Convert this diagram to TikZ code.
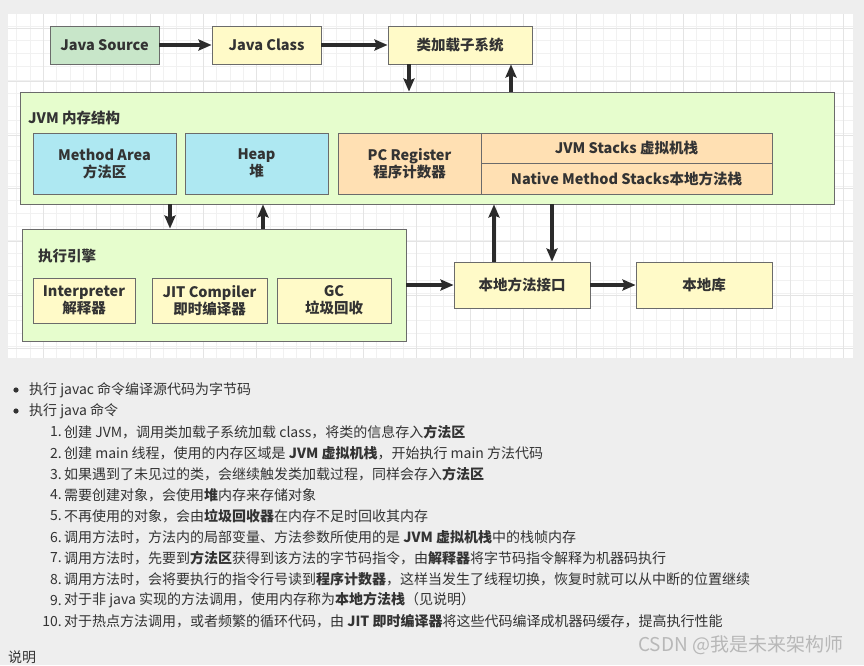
\documentclass[tikz,border=0pt]{standalone}
\usepackage{fontspec}
\setmainfont{Noto Sans CJK SC}
\usetikzlibrary{arrows.meta}
\definecolor{bgc}{HTML}{EEEEEE}
\definecolor{gridmin}{HTML}{F1F1F1}
\definecolor{gridmaj}{HTML}{E4E4E4}
\definecolor{greenbox}{HTML}{C8E6C9}
\definecolor{yellowbox}{HTML}{FFFAC8}
\definecolor{jvmgreen}{HTML}{E6FDCD}
\definecolor{bluebox}{HTML}{AEE8F2}
\definecolor{peachbox}{HTML}{FFE0B3}
\definecolor{bordc}{HTML}{6B6B6B}
\definecolor{arrc}{HTML}{2B2B2B}
\definecolor{txt}{HTML}{333333}
\definecolor{wm}{HTML}{B8B8B8}
\tikzset{
  box/.style={draw=bordc, line width=0.9pt, text=txt, align=center, inner sep=0pt,
    font=\bfseries\fontsize{14.5}{17}\selectfont},
  lbl/.style={text=txt, inner sep=0pt, font=\bfseries\fontsize{14.5}{17}\selectfont},
  arr/.style={draw=arrc, line width=3.4pt, -{Stealth[length=13pt,width=11pt,inset=2pt]}},
  para/.style={text=txt, inner sep=0pt, anchor=west, font=\fontsize{14}{17}\selectfont},
  num/.style={text=txt, inner sep=0pt, anchor=east, font=\fontsize{14}{17}\selectfont},
}
\begin{document}
\begin{tikzpicture}[x=1pt,y=-1pt]
\useasboundingbox (0,0) rectangle (864,665);
\fill[bgc] (0,0) rectangle (864,665);
\fill[white] (8,14) rectangle (853,358);
\begin{scope}
\clip (8,14) rectangle (853,358);
\foreach \i in {0,...,66} \draw[gridmin, line width=0.8pt] ({-10+\i*13.333},14) -- ({-10+\i*13.333},358);
\foreach \i in {0,...,27} \draw[gridmin, line width=0.8pt] (8,{0+\i*13.333}) -- (853,{0+\i*13.333});
\foreach \i in {0,...,17} \draw[gridmaj, line width=1pt] ({-10+\i*53.333},14) -- ({-10+\i*53.333},358);
\foreach \i in {0,...,7} \draw[gridmaj, line width=1pt] (8,{-25+\i*53.333}) -- (853,{-25+\i*53.333});
\end{scope}

% top row
\node[box, fill=greenbox, minimum width=109, minimum height=38] (src) at (104.5,45) {Java Source};
\node[box, fill=yellowbox, minimum width=109, minimum height=38] (cls) at (266.5,45) {Java Class};
\node[box, fill=yellowbox, minimum width=144, minimum height=38] (loader) at (460,45) {类加载子系统};

% JVM memory
\node[box, fill=jvmgreen, minimum width=814, minimum height=112] (jvm) at (427,148) {};
\node[lbl, anchor=west] (jvmlbl) at (28,118) {JVM 内存结构};
\node[box, fill=bluebox, minimum width=143, minimum height=61] (method) at (104.5,163.5) {Method Area\\方法区};
\node[box, fill=bluebox, minimum width=143, minimum height=61] (heap) at (256.5,163.5) {Heap\\堆};
\node[box, fill=peachbox, minimum width=143, minimum height=61] (pc) at (409.5,163.5) {PC Register\\程序计数器};
\node[box, fill=peachbox, minimum width=291, minimum height=30.5] (jstack) at (626.5,148.25) {JVM Stacks 虚拟机栈};
\node[box, fill=peachbox, minimum width=291, minimum height=30.5] (native) at (626.5,178.75) {Native Method Stacks本地方法栈};

% execution engine
\node[box, fill=jvmgreen, minimum width=384, minimum height=112] (exec) at (214,285) {};
\node[lbl, anchor=west] (execlbl) at (38,256) {执行引擎};
\node[box, fill=yellowbox, minimum width=102, minimum height=45] (interp) at (84,300.5) {Interpreter\\解释器};
\node[box, fill=yellowbox, minimum width=115, minimum height=45] (jit) at (209.5,300.5) {JIT Compiler\\即时编译器};
\node[box, fill=yellowbox, minimum width=114, minimum height=45] (gc) at (334,300.5) {GC\\垃圾回收};

% native
\node[box, fill=yellowbox, minimum width=136, minimum height=46] (jni) at (522,285) {本地方法接口};
\node[box, fill=yellowbox, minimum width=136, minimum height=46] (lib) at (704,285) {本地库};

% arrows
\draw[arr] (src.east) -- (cls.west);
\draw[arr] (cls.east) -- (loader.west);
\draw[arr] ([xshift=-51pt]loader.south) -- ([xshift=-51pt]loader.south |- jvm.north);
\draw[arr] ([xshift=51pt]loader.south |- jvm.north) -- ([xshift=51pt]loader.south);
\draw[arr] ([xshift=-44pt]exec.north |- jvm.south) -- ([xshift=-44pt]exec.north);
\draw[arr] ([xshift=49pt]exec.north) -- ([xshift=49pt]exec.north |- jvm.south);
\draw[arr] (exec.east) -- (jni.west);
\draw[arr] (jni.east) -- (lib.west);
\draw[arr] ([xshift=-28pt]jni.north) -- ([xshift=-28pt]jni.north |- jvm.south);
\draw[arr] ([xshift=30pt]jni.north |- jvm.south) -- ([xshift=30pt]jni.north);

% text below
\fill[txt] (16,390) circle (2.6);
\fill[txt] (16,411) circle (2.6);
\node[para] (b1) at (29,390) {执行 javac 命令编译源代码为字节码};
\node[para] (b2) at (29,411) {执行 java 命令};
\node[num] (n1) at (62,432) {1.};
\node[para] (t1) at (64,432) {创建 JVM，调用类加载子系统加载 class，将类的信息存入\textbf{方法区}};
\node[num] (n2) at (62,453) {2.};
\node[para] (t2) at (64,453) {创建 main 线程，使用的内存区域是 \textbf{JVM 虚拟机栈}，开始执行 main 方法代码};
\node[num] (n3) at (62,474) {3.};
\node[para] (t3) at (64,474) {如果遇到了未见过的类，会继续触发类加载过程，同样会存入\textbf{方法区}};
\node[num] (n4) at (62,495) {4.};
\node[para] (t4) at (64,495) {需要创建对象，会使用\textbf{堆}内存来存储对象};
\node[num] (n5) at (62,516) {5.};
\node[para] (t5) at (64,516) {不再使用的对象，会由\textbf{垃圾回收器}在内存不足时回收其内存};
\node[num] (n6) at (62,537) {6.};
\node[para] (t6) at (64,537) {调用方法时，方法内的局部变量、方法参数所使用的是 \textbf{JVM 虚拟机栈}中的栈帧内存};
\node[num] (n7) at (62,558) {7.};
\node[para] (t7) at (64,558) {调用方法时，先要到\textbf{方法区}获得到该方法的字节码指令，由\textbf{解释器}将字节码指令解释为机器码执行};
\node[num] (n8) at (62,579) {8.};
\node[para] (t8) at (64,579) {调用方法时，会将要执行的指令行号读到\textbf{程序计数器}，这样当发生了线程切换，恢复时就可以从中断的位置继续};
\node[num] (n9) at (62,600) {9.};
\node[para] (t9) at (64,600) {对于非 java 实现的方法调用，使用内存称为\textbf{本地方法栈}（见说明）};
\node[num] (n10) at (62,621) {10.};
\node[para] (t10) at (64,621) {对于热点方法调用，或者频繁的循环代码，由 \textbf{JIT 即时编译器}将这些代码编译成机器码缓存，提高执行性能};
\node[para] (shuoming) at (8,657) {说明};
\node[para, text=wm, font=\fontsize{19}{22}\selectfont] (wmk) at (638,645) {CSDN @我是未来架构师};
\end{tikzpicture}
\end{document}
